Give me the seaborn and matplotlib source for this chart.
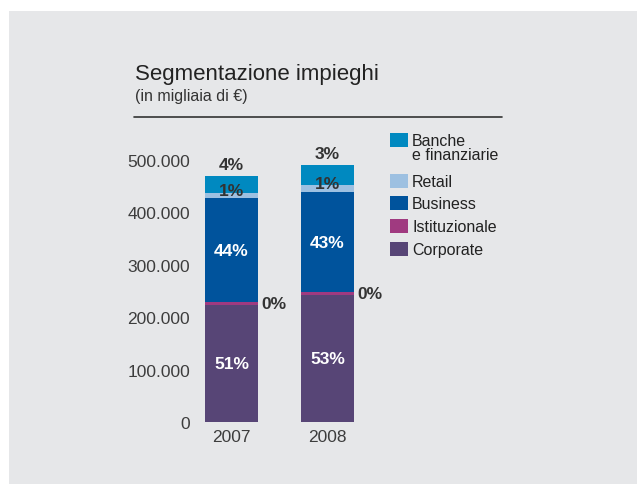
import matplotlib
matplotlib.use("Agg")
import numpy as np
import pandas as pd
import seaborn as sns
import matplotlib.pyplot as plt
from matplotlib.patches import Rectangle
from matplotlib.ticker import FuncFormatter

years = ["2007", "2008"]
segments = ["Corporate", "Istituzionale", "Business", "Retail", "Banche\ne finanziarie"]
corporate = [223000, 242000]
istituzionale = [6000, 6000]
business = [198000, 191000]
retail = [10000, 13000]
banche = [32000, 38000]
pct_labels = {
    "Corporate": ["51%", "53%"],
    "Istituzionale": ["0%", "0%"],
    "Business": ["44%", "43%"],
    "Retail": ["1%", "1%"],
    "Banche\ne finanziarie": ["4%", "3%"],
}
colors = ["#574576", "#a03a80", "#00539c", "#9dc0e1", "#0089c0"]
yticks = [0, 100000, 200000, 300000, 400000, 500000]

sns.set_theme(style="white")
plt.rcParams["font.family"] = ["Liberation Sans Narrow", "Liberation Sans", "DejaVu Sans"]

W, H = 637, 485
fig = plt.figure(figsize=(W / 100, H / 100), dpi=100)
fig.patch.set_facecolor("white")
bg = "#e6e7e9"
fig.patches.append(Rectangle((9 / W, 0), 1, (H - 12) / H, transform=fig.transFigure,
                             facecolor=bg, edgecolor="none", zorder=-5))

# axes placed in pixel terms
ax_l, ax_r, ax_b, ax_t = 196, 380, 423, 161
ax = fig.add_axes([ax_l / W, 1 - ax_b / H, (ax_r - ax_l) / W, (ax_b - ax_t) / H])
ax.set_facecolor("none")

df = pd.DataFrame({"year": years, "Corporate": corporate, "Istituzionale": istituzionale,
                   "Business": business, "Retail": retail, "Banche\ne finanziarie": banche})
cum = df[segments].cumsum(axis=1)

# draw stacked bars from the top down so each layer covers the one above it
for seg, col in reversed(list(zip(segments, colors))):
    sns.barplot(x=df["year"], y=cum[seg], color=col, width=0.552, saturation=1,
                linewidth=0, ax=ax, order=years)

ax.set_xlim(-0.37, 1.547)
ax.set_ylim(0, 500000)
ax.set_yticks(yticks)
ax.yaxis.set_major_formatter(FuncFormatter(lambda v, p: f"{int(v):,}".replace(",", ".")))
ax.tick_params(axis="y", length=0, pad=4.3, labelsize=12.5, labelcolor="#3d3d3d")
ax.tick_params(axis="x", length=0, pad=5, labelsize=12.5, labelcolor="#3d3d3d")
ax.set_xlabel("")
ax.set_ylabel("")
for s in ax.spines.values():
    s.set_visible(False)

# percentage labels
for i in range(len(years)):
    bottom = 0
    for seg in segments:
        v = df[seg][i]
        mid = bottom + v / 2
        txt = pct_labels[seg][i]
        if seg == "Corporate" or seg == "Business":
            ax.text(i, mid, txt, ha="center", va="center", color="white",
                    fontsize=12.5, fontweight="bold")
        elif seg == "Istituzionale":
            ax.text(i + 0.31, mid, txt, ha="left", va="center", color="#333333",
                    fontsize=12.5, fontweight="bold")
        elif seg == "Retail":
            ax.text(i, mid + 9000, txt, ha="center", va="center", color="#333333",
                    fontsize=12.5, fontweight="bold")
        else:
            ax.text(i, bottom + v + 22000, txt, ha="center", va="center", color="#333333",
                    fontsize=12.5, fontweight="bold", clip_on=False)
        bottom += v

# title block
fig.text(135 / W, 1 - 80 / H, "Segmentazione impieghi", fontsize=16, color="#222222",
         ha="left", va="baseline")
fig.text(135 / W, 1 - 101 / H, "(in migliaia di €)", fontsize=11.5, color="#333333",
         ha="left", va="baseline")
fig.add_artist(plt.Line2D([134 / W, 502 / W], [1 - 118 / H, 1 - 118 / H],
                          color="#333333", linewidth=1.2))

# legend drawn by hand
leg_y = [141, 182, 204, 227, 250]
for seg, col, y in zip(reversed(segments), reversed(colors), leg_y):
    fig.patches.append(Rectangle((390 / W, 1 - (y + 7) / H), 18 / W, 14 / H,
                                 transform=fig.transFigure, facecolor=col, edgecolor="none"))
    fig.text(412 / W, 1 - (y - 7) / H, seg, fontsize=11.5, color="#222222",
             ha="left", va="top", linespacing=0.95)

fig.savefig("out.png", dpi=100)
